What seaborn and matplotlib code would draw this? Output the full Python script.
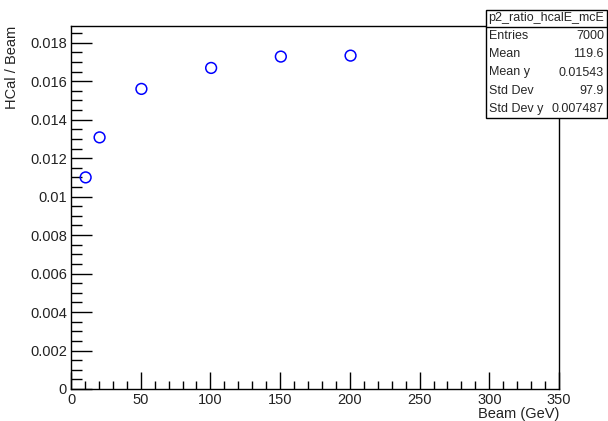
import matplotlib
matplotlib.use("Agg")
import matplotlib.pyplot as plt
from matplotlib.patches import Rectangle
from matplotlib.ticker import MultipleLocator
import pandas as pd
import seaborn as sns

# profile points
beam = [10.5, 20.5, 50.5, 100.5, 150.5, 200.5]
ratio = [0.01100, 0.01308, 0.01560, 0.01669, 0.01728, 0.01733]

stat_title = "p2_ratio_hcalE_mcE"
stat_names = ["Entries", "Mean", "Mean y", "Std Dev", "Std Dev y"]
stat_values = ["7000", "119.6", "0.01543", "97.9", "0.007487"]

df = pd.DataFrame({"beam": beam, "ratio": ratio})

sns.set_style("ticks")
plt.rcParams["font.family"] = ["Liberation Sans", "DejaVu Sans"]

W, H = 608, 421
fig = plt.figure(figsize=(W / 100, H / 100), dpi=100)
ax = fig.add_axes([71 / W, 1 - 389 / H, (559 - 71) / W, (389 - 26) / H])

sns.scatterplot(data=df, x="beam", y="ratio", ax=ax, marker="o", s=60,
                facecolors="none", edgecolor="#0000ff", linewidth=1.1, zorder=3)

ax.set_xlim(0, 350)
ax.set_ylim(0, 0.01887)
ax.xaxis.set_major_locator(MultipleLocator(50))
ax.xaxis.set_minor_locator(MultipleLocator(10))
ax.yaxis.set_major_locator(MultipleLocator(0.002))
ax.yaxis.set_minor_locator(MultipleLocator(0.0005))
ax.set_yticks([0, 0.002, 0.004, 0.006, 0.008, 0.01, 0.012, 0.014, 0.016, 0.018])
ax.set_yticklabels(["0", "0.002", "0.004", "0.006", "0.008", "0.01",
                    "0.012", "0.014", "0.016", "0.018"])

ax.tick_params(axis="both", which="both", direction="in", top=False, right=False,
               labelsize=10.5, colors="black", labelcolor="#222222", pad=3, width=1)
ax.tick_params(axis="y", which="major", length=15)
ax.tick_params(axis="y", which="minor", length=8)
ax.tick_params(axis="x", which="major", length=12)
ax.tick_params(axis="x", which="minor", length=6)
for sp in ax.spines.values():
    sp.set_visible(True)
    sp.set_color("black")
    sp.set_linewidth(1)

ax.set_xlabel("Beam (GeV)", loc="right", fontsize=10.5, labelpad=0, color="#222222")
ax.set_ylabel("HCal / Beam", loc="top", fontsize=10.5, color="#222222")
ax.yaxis.set_label_coords(-52 / (559 - 71), 1.0)

# ROOT style stats box
def fx(px):
    return px / W

def fy(py):
    return 1 - py / H

x0, x1, ytop, ysep, ybot = 486, 607, 10, 27, 118
fig.add_artist(Rectangle((fx(x0), fy(ybot)), fx(x1) - fx(x0), fy(ytop) - fy(ybot),
                         transform=fig.transFigure, facecolor="white",
                         edgecolor="black", linewidth=1, zorder=5))
fig.add_artist(plt.Line2D([fx(x0), fx(x1)], [fy(ysep), fy(ysep)],
                          transform=fig.transFigure, color="black", linewidth=1, zorder=6))
fig.text(fx((x0 + x1) / 2), fy((ytop + ysep) / 2), stat_title, ha="center", va="center",
         fontsize=9, zorder=7)
row_h = (ybot - ysep) / len(stat_names)
for i, (n, v) in enumerate(zip(stat_names, stat_values)):
    yc = ysep + row_h * (i + 0.5)
    fig.text(fx(x0 + 3), fy(yc), n, ha="left", va="center", fontsize=9, zorder=7)
    fig.text(fx(x1 - 3), fy(yc), v, ha="right", va="center", fontsize=9, zorder=7)

fig.savefig("out.png", dpi=100, facecolor="white")
